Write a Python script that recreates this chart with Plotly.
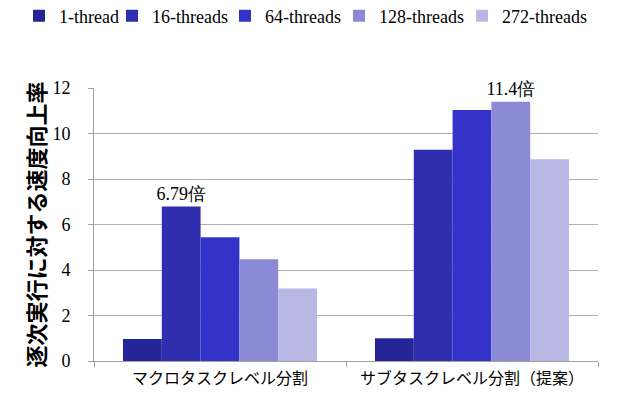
import plotly.graph_objects as go

categories = ["マクロタスクレベル分割", "サブタスクレベル分割（提案）"]
series_names = ["1-thread", "16-threads", "64-threads", "128-threads", "272-threads"]
values = {
    "1-thread": [0.97, 1.0],
    "16-threads": [6.79, 9.29],
    "64-threads": [5.44, 11.03],
    "128-threads": [4.47, 11.4],
    "272-threads": [3.19, 8.87],
}
bar_labels = {
    "1-thread": ["", ""],
    "16-threads": ["6.79倍", ""],
    "64-threads": ["", ""],
    "128-threads": ["", "11.4倍"],
    "272-threads": ["", ""],
}
colors = ["#252598", "#2e2eaf", "#3333ca", "#8a8ad6", "#b8b8e5"]
y_ticks = [0, 2, 4, 6, 8, 10, 12]
legend_left_px = [19, 112, 225, 339, 462]

serif = "'Liberation Serif', 'Times New Roman', serif"
cjk = "'Noto Sans CJK JP', sans-serif"

fig = go.Figure()
for i, (name, col) in enumerate(zip(series_names, colors)):
    lg = "legend" if i == 0 else f"legend{i + 1}"
    fig.add_trace(go.Bar(
        name=name,
        x=categories,
        y=values[name],
        marker=dict(color=col, line=dict(width=0)),
        text=bar_labels[name],
        textposition="outside",
        constraintext="none",
        textfont=dict(family=serif, size=18, color="#000000"),
        cliponaxis=False,
        legend=lg,
    ))

layout_legends = {}
for i, left in enumerate(legend_left_px):
    key = "legend" if i == 0 else f"legend{i + 1}"
    layout_legends[key] = dict(
        orientation="h", xref="container", yref="container",
        x=left / 620, xanchor="left", y=1 - 16 / 396, yanchor="middle",
        font=dict(family=serif, size=18, color="#000000"),
        itemwidth=30, bgcolor="rgba(0,0,0,0)", borderwidth=0,
    )

fig.update_layout(
    width=620, height=396,
    margin=dict(l=94, r=22, t=88, b=35, autoexpand=False),
    paper_bgcolor="white", plot_bgcolor="white",
    barmode="group", bargap=0.23, bargroupgap=0,
    showlegend=True,
    **layout_legends,
)
fig.update_xaxes(
    automargin=False,
    showline=True, linecolor="#a0a0a0", linewidth=1,
    ticks="outside", ticklen=5, tickcolor="#a0a0a0",
    tickson="boundaries", ticklabelstandoff=3,
    tickfont=dict(family=cjk, size=16, color="#000000"),
    showgrid=False,
)
fig.update_yaxes(
    automargin=False,
    range=[0, 12], tickvals=y_ticks,
    showline=True, linecolor="#a0a0a0", linewidth=1,
    ticks="outside", ticklen=5, tickcolor="#a0a0a0",
    ticklabelstandoff=14,
    showgrid=True, gridcolor="#b0b0b0", gridwidth=1,
    zeroline=False,
    tickfont=dict(family=serif, size=18, color="#000000"),
    title=dict(text="<b>逐次実行に対する速度向上率</b>",
               font=dict(family=cjk, size=22, color="#000000"), standoff=0),
)

fig.write_html("out.html")
